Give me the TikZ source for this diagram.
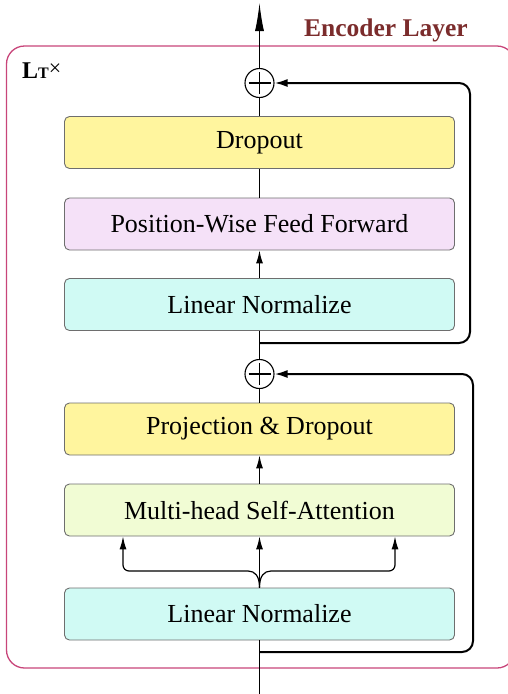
\documentclass[tikz,border=0pt]{standalone}
\usepackage{fontspec}
\setmainfont{Liberation Serif}
\usetikzlibrary{arrows.meta,calc}
\definecolor{frameC}{HTML}{C8457A}
\definecolor{titleC}{HTML}{7B2C2C}
\definecolor{yellowC}{HTML}{FFF59E}
\definecolor{purpleC}{HTML}{F5E1F8}
\definecolor{cyanC}{HTML}{D0FAF4}
\definecolor{greenC}{HTML}{F1FCD4}
\definecolor{edgeC}{HTML}{6E6E6E}
\begin{document}
\begin{tikzpicture}[x=1pt,y=-1pt,
  blk/.style={draw=edgeC, line width=0.9pt, rounded corners=5pt, minimum width=390pt, minimum height=52pt, inner sep=0pt, font=\fontsize{26}{31}\selectfont},
  addc/.style={circle, draw=black, line width=1.1pt, minimum size=29pt, inner sep=0pt,
    path picture={\draw[line width=1.1pt] ($(path picture bounding box.center)+(-11pt,0)$) -- ($(path picture bounding box.center)+(11pt,0)$);
                  \draw[line width=1.1pt] ($(path picture bounding box.center)+(0,-11pt)$) -- ($(path picture bounding box.center)+(0,11pt)$);}},
  flow/.style={line width=1.2pt},
  arr/.style={flow, -{Latex[length=13pt,width=7pt]}},
  toparr/.style={flow, -{Latex[length=28pt,width=9pt]}},
  skip/.style={line width=2pt, rounded corners=11pt, -{Latex[length=13pt,width=8pt]}}
]
\useasboundingbox (0,0) rectangle (507,694);
% frame
\draw[frameC, line width=1.3pt, rounded corners=18pt] (6.5,46) rectangle (515,668);
\node[font=\fontsize{25.5}{30}\selectfont\bfseries, text=titleC, anchor=base] (title) at (386,36) {Encoder Layer};
\node[anchor=base west, inner sep=0pt] (lt) at (22,78) {{\fontsize{24}{28}\selectfont\textbf{L}}{\fontsize{16}{19}\selectfont\textbf{T}}\raisebox{3pt}{\fontsize{22}{26}\selectfont×}};

\node[blk, fill=yellowC] (drop) at (259.5,142.5) {Dropout};
\node[blk, fill=purpleC] (ffn) at (259.5,224) {Position-Wise Feed Forward};
\node[blk, fill=cyanC] (ln1) at (259.5,304.5) {Linear Normalize};
\node[blk, fill=yellowC] (proj) at (259.5,429) {Projection \& Dropout};
\node[blk, fill=greenC] (mhsa) at (259.5,510) {Multi-head Self-Attention};
\node[blk, fill=cyanC] (ln2) at (259.5,614) {Linear Normalize};

\node[addc] (add1) at (259.5,83) {};
\node[addc] (add2) at (259.5,374) {};

\coordinate (top) at (259.5,3);
\coordinate (bot) at (259.5,694);
\coordinate (s1) at (259.5,343);
\coordinate (s2) at (259.5,652);
\coordinate (bl) at (123,571);
\coordinate (br) at (395,571);

% main flow
\draw[toparr] (add1.north) -- (top);
\draw[flow] (drop.north) -- (add1.south);
\draw[flow] (ffn.north) -- (drop.south);
\draw[arr] (ln1.north) -- (ffn.south);
\draw[flow] (add2.north) -- (ln1.south);
\draw[flow] (proj.north) -- (add2.south);
\draw[arr] (mhsa.north) -- (proj.south);
\draw[flow] (bot) -- (ln2.south);

% attention branches
\draw[arr] (ln2.north) -- (mhsa.south);
\draw[arr, rounded corners=6pt] (ln2.north) .. controls (259.5,576) and (255,571) .. (242,571) -- (bl) -- (bl |- mhsa.south);
\draw[arr, rounded corners=6pt] (ln2.north) .. controls (259.5,576) and (264,571) .. (277,571) -- (br) -- (br |- mhsa.south);

% skip connections
\draw[skip] (s1) -- (470,343) -- (470,83) -- (add1.east);
\draw[skip] (s2) -- (473,652) -- (473,374) -- (add2.east);
\end{tikzpicture}
\end{document}
